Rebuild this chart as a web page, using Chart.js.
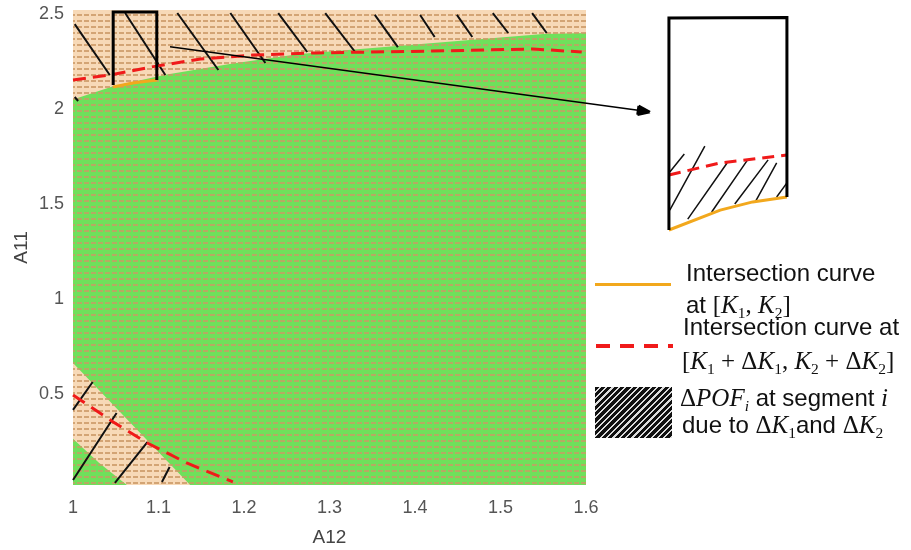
<!DOCTYPE html>
<html>
<head>
<meta charset="utf-8">
<script src="https://cdn.jsdelivr.net/npm/chart.js@4.4.1/dist/chart.umd.min.js"></script>
<style>
body { margin: 0; background: #fff; }
#wrap { position: relative; width: 911px; height: 550px; }
.lg { position: absolute; font-family: "Liberation Sans", Arial, sans-serif; font-size: 24px; color: #111; line-height: 28px; white-space: nowrap; }
.m { font-family: "Liberation Serif", serif; font-style: italic; font-size: 25px; }
.u { font-family: "Liberation Serif", serif; font-style: normal; font-size: 25px; }
.lg sub { font-size: 0.62em; vertical-align: -0.3em; line-height: 0; font-style: normal; }
.sym { position: absolute; }
</style>
</head>
<body>
<div id="wrap">
<canvas id="myChart" width="911" height="550"></canvas>

<div class="sym" style="left:595px;top:283px;width:76px;height:3px;background:#f2a81d"></div>
<div class="lg" style="left:686px;top:259px">Intersection curve</div>
<div class="lg" style="left:686px;top:291px">at <span class="u">[</span><span class="m">K</span><span class="u"><sub>1</sub>, </span><span class="m">K</span><span class="u"><sub>2</sub>]</span></div>

<div class="sym" style="left:596px;top:344px;width:77px;height:4px;background:repeating-linear-gradient(90deg,#f01a1a 0 14px,transparent 14px 24px)"></div>
<div class="lg" style="left:683px;top:313px">Intersection curve at</div>
<div class="lg" style="left:682px;top:347px"><span class="u">[</span><span class="m">K</span><span class="u"><sub>1</sub> + Δ</span><span class="m">K</span><span class="u"><sub>1</sub>, </span><span class="m">K</span><span class="u"><sub>2</sub> + Δ</span><span class="m">K</span><span class="u"><sub>2</sub>]</span></div>

<div class="sym" style="left:595px;top:387px;width:77px;height:51px;background:repeating-linear-gradient(135deg,#111 0 3px,#ddd 3px 4.5px)"></div>
<div class="lg" style="left:680px;top:384px"><span class="u">Δ</span><span class="m">POF<sub><i>i</i></sub></span> at segment <span class="m">i</span></div>
<div class="lg" style="left:682px;top:411px">due to <span class="u">Δ</span><span class="m">K</span><span class="u"><sub>1</sub></span>and <span class="u">Δ</span><span class="m">K</span><span class="u"><sub>2</sub></span></div>
</div>

<script>
// axis ticks
const xTicks = [1, 1.1, 1.2, 1.3, 1.4, 1.5, 1.6];
const yTicks = [0.5, 1, 1.5, 2, 2.5];

// plot background (tan region)
const bgX = [1, 1, 1.6, 1.6, 1];
const bgY = [0.021, 2.521, 2.521, 0.021, 0.021];

// green region
const greenX = [1, 1, 1.047, 1.108, 1.187, 1.265, 1.40, 1.55, 1.6, 1.6, 1.137, 1];
const greenY = [0.663, 2.05, 2.12, 2.18, 2.24, 2.29, 2.34, 2.395, 2.40, 0.021, 0.021, 0.663];

// small green corner
const cornerX = [1, 1, 1.03, 1.063, 1];
const cornerY = [0.021, 0.265, 0.14, 0.021, 0.021];

// intersection curve at [K1+dK1, K2+dK2]
const redUpX = [1, 1.043, 1.094, 1.149, 1.21, 1.285, 1.42, 1.538, 1.595];
const redUpY = [2.153, 2.179, 2.223, 2.263, 2.284, 2.295, 2.305, 2.316, 2.30];
const redLowX = [1, 1.047, 1.087, 1.133, 1.187];
const redLowY = [0.495, 0.353, 0.242, 0.137, 0.037];

// intersection curve at [K1, K2] (segment i)
const orangeX = [1.047, 1.07, 1.098];
const orangeY = [2.116, 2.137, 2.153];

// segment box
const boxX = [1.047, 1.047, 1.098, 1.098];
const boxY = [2.126, 2.51, 2.51, 2.153];

// hatching [x1, y1, x2, y2]
const hatchTop = [
  [1.002, 2.447, 1.043, 2.179], [1.002, 2.063, 1.006, 2.042],
  [1.061, 2.505, 1.108, 2.179], [1.122, 2.505, 1.170, 2.205],
  [1.184, 2.505, 1.225, 2.242], [1.240, 2.505, 1.274, 2.30],
  [1.295, 2.505, 1.330, 2.30], [1.353, 2.495, 1.380, 2.326],
  [1.406, 2.495, 1.423, 2.379], [1.449, 2.495, 1.467, 2.379],
  [1.491, 2.505, 1.509, 2.40], [1.537, 2.505, 1.554, 2.40]
];
const hatchLow = [
  [1.0, 0.416, 1.023, 0.563], [1.0, 0.047, 1.051, 0.40],
  [1.049, 0.032, 1.087, 0.247], [1.104, 0.037, 1.113, 0.116]
];

// zoomed inset
const insetX = [1.835, 1.835, 1.697, 1.697];
const insetY = [1.537, 2.482, 2.479, 1.363];
const insetRedX = [1.697, 1.757, 1.835];
const insetRedY = [1.653, 1.716, 1.758];
const insetOrangeX = [1.697, 1.757, 1.795, 1.835];
const insetOrangeY = [1.363, 1.468, 1.511, 1.537];
const hatchInset = [
  [1.698, 1.668, 1.715, 1.763], [1.698, 1.468, 1.739, 1.805],
  [1.719, 1.42, 1.765, 1.716], [1.747, 1.458, 1.789, 1.732],
  [1.774, 1.5, 1.813, 1.732], [1.798, 1.511, 1.823, 1.716],
  [1.823, 1.537, 1.835, 1.611]
];

// arrow from box to inset, and its head (tip, base corners)
const arrowX = [1.1135, 1.6609];
const arrowY = [2.328, 1.9932];
const arrowHead = [
  [1.6749, 1.9842, 1.6602, 1.9695], [1.6749, 1.9842, 1.6609, 1.9932],
  [1.6749, 1.9842, 1.6616, 2.0168], [1.6602, 1.9695, 1.6616, 2.0168],
  [1.6749, 1.9842, 1.6605, 1.9810], [1.6749, 1.9842, 1.6612, 2.0050]
];

function pts(xs, ys) {
  // trailing gap keeps the points unsorted so nothing beyond the axis max is dropped
  return xs.map((x, i) => ({x: x, y: ys[i]})).concat([{x: null, y: null}]);
}
function segs(list) {
  const out = [];
  list.forEach(s => {
    out.push({x: s[0], y: s[1]}, {x: s[2], y: s[3]}, {x: null, y: null});
  });
  return out;
}
function makePattern(bg, dash) {
  const c = document.createElement('canvas');
  c.width = 7; c.height = 6;
  const g = c.getContext('2d');
  g.fillStyle = bg; g.fillRect(0, 0, 7, 6);
  g.fillStyle = dash; g.fillRect(0, 2, 5, 2);
  return g.createPattern(c, 'repeat');
}

const tanPat = makePattern('#f7d9b7', '#d3a474');
const greenPat = makePattern('#6fe05b', '#b6aa62');

function line(data, color, width, order, extra) {
  return Object.assign({
    data: data, showLine: true, borderColor: color, borderWidth: width,
    pointRadius: 0, tension: 0, fill: false, clip: false, order: order
  }, extra || {});
}

const ctx = document.getElementById('myChart').getContext('2d');
const myChart = new Chart(ctx, {
  type: 'scatter',
  data: {
    datasets: [
      line(pts(bgX, bgY), 'transparent', 0, 20, {fill: 'shape', backgroundColor: tanPat}),
      line(pts(greenX, greenY), 'transparent', 0, 19, {fill: 'shape', backgroundColor: greenPat}),
      line(pts(cornerX, cornerY), 'transparent', 0, 18, {fill: 'shape', backgroundColor: greenPat}),
      line(segs(hatchTop), '#111', 2, 10),
      line(segs(hatchLow), '#111', 2, 10),
      line(pts(redUpX, redUpY), '#f01a1a', 3, 8, {borderDash: [13, 7]}),
      line(pts(redLowX, redLowY), '#f01a1a', 3, 8, {borderDash: [14, 8]}),
      line(pts(orangeX, orangeY), '#f2a81d', 3, 7),
      line(pts(boxX, boxY), '#000', 3, 6),
      line(pts(arrowX, arrowY), '#000', 1.5, 5),
      line(segs(arrowHead), '#000', 2.5, 5),
      line(segs(hatchInset), '#111', 1.5, 4),
      line(pts(insetRedX, insetRedY), '#f01a1a', 3, 3, {borderDash: [12, 7]}),
      line(pts(insetOrangeX, insetOrangeY), '#f2a81d', 3, 2),
      line(pts(insetX, insetY), '#000', 3, 1)
    ]
  },
  options: {
    responsive: false,
    animation: false,
    layout: { padding: { top: 10, right: 325, bottom: 0, left: 0 } },
    plugins: {
      legend: { display: false },
      tooltip: { enabled: false },
      filler: { drawTime: 'beforeDatasetDraw' }
    },
    scales: {
      x: {
        type: 'linear', min: 1, max: 1.6,
        afterBuildTicks: s => { s.ticks = xTicks.map(v => ({value: v})); },
        afterFit: s => { s.height = 65; s.paddingLeft = 0; s.paddingRight = 0; },
        ticks: {
          color: '#555', padding: 12,
          font: { family: 'Liberation Sans', size: 18 },
          callback: v => String(Math.round(v * 10) / 10)
        },
        grid: { display: false, drawTicks: false },
        border: { display: false },
        title: {
          display: true, text: 'A12', color: '#444', padding: { top: 0, bottom: 1 },
          font: { family: 'Liberation Sans', size: 19 }
        }
      },
      y: {
        type: 'linear', min: 0.021, max: 2.521,
        afterBuildTicks: s => { s.ticks = yTicks.map(v => ({value: v})); },
        afterFit: s => { s.width = 73; s.paddingTop = 0; s.paddingBottom = 0; },
        ticks: {
          color: '#555', padding: 9,
          font: { family: 'Liberation Sans', size: 18 },
          callback: v => String(v)
        },
        grid: { display: false, drawTicks: false },
        border: { display: false },
        title: {
          display: true, text: 'A11', color: '#444', padding: { top: 10, bottom: 0 },
          font: { family: 'Liberation Sans', size: 19 }
        }
      }
    }
  }
});
</script>
</body>
</html>
